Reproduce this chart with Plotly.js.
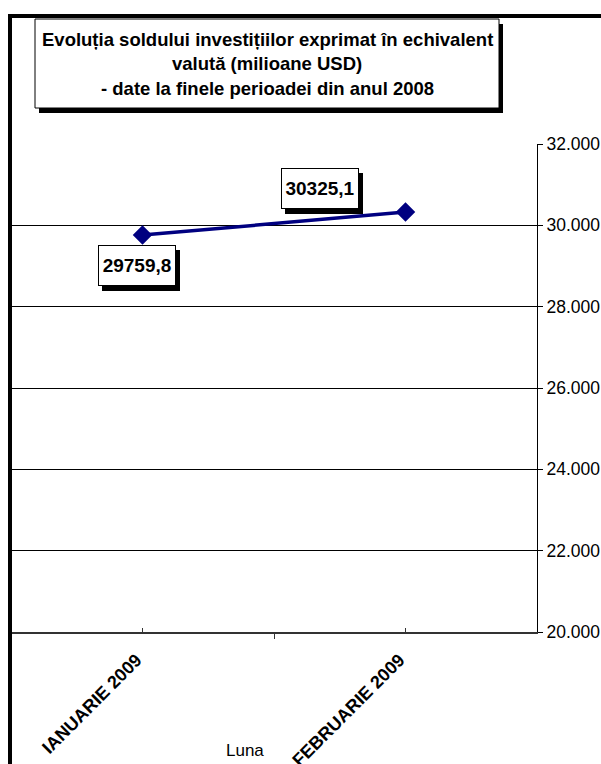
<!DOCTYPE html>
<html>
<head>
<meta charset="utf-8">
<script src="https://cdn.plot.ly/plotly-3.0.1.min.js"></script>
<style>
  html, body { margin: 0; padding: 0; background: #ffffff; overflow: hidden; }
  #wrap { position: relative; width: 601px; height: 764px; overflow: hidden; }
  #chart { position: absolute; left: 0; top: 0; width: 601px; height: 764px; }
  #frameTop { position: absolute; left: 8px; top: 14px; width: 593px; height: 4px;
              background: #000; pointer-events: none; z-index: 5; }
  #frameLeft { position: absolute; left: 8px; top: 14px; width: 4px; height: 750px;
               background: #000; pointer-events: none; z-index: 5; }
</style>
</head>
<body>
<div id="wrap"><div id="chart"></div><div id="frameTop"></div><div id="frameLeft"></div></div>
<script>
// ---- data ----
const categories = ["IANUARIE 2009", "FEBRUARIE 2009"];
const values = [29759.8, 30325.1];
const yTickValues = [20000, 22000, 24000, 26000, 28000, 30000, 32000];
const titleLines = [
  "Evoluția soldului investițiilor exprimat în echivalent",
  "valută (milioane USD)",
  "- date la finele perioadei din anul 2008"
];
const xAxisTitle = "Luna";

// ---- layout helpers (pixel -> paper) ----
const W = 601, H = 764;
const M = { l: 11, r: 64, t: 144, b: 132 };
const PW = W - M.l - M.r, PH = H - M.t - M.b;
const px = x => (x - M.l) / PW;
const py = y => (H - M.b - y) / PH;

const FONT = "Liberation Sans, Arial, sans-serif";
const xIdx = categories.map((c, i) => i);

const trace = {
  type: "scatter",
  mode: "lines+markers",
  x: xIdx,
  y: values,
  line: { color: "#000080", width: 3.5 },
  marker: { symbol: "diamond", size: 15, color: "#000080" },
  hoverinfo: "skip",
  showlegend: false
};

const annotations = [];
const shapes = [
  // top frame edge (also drawn by plotly)
  { type: "line", xref: "paper", yref: "paper",
    x0: px(8), x1: px(601), y0: py(16), y1: py(16),
    line: { color: "#000000", width: 4 }, layer: "above" },
  // title box shadow
  { type: "rect", xref: "paper", yref: "paper",
    x0: px(39), x1: px(503), y0: py(113), y1: py(24),
    line: { width: 0 }, fillcolor: "#000000", layer: "above" },
  // title box
  { type: "rect", xref: "paper", yref: "paper",
    x0: px(35), x1: px(499), y0: py(108), y1: py(19),
    line: { color: "#000000", width: 1 }, fillcolor: "#ffffff", layer: "above" }
];

// data labels (box shadow as pixel-sized shape anchored at the point)
const labelShift = [[-5.5, -30.4], [-85.5, 23.6]];
const BW = 78, BH = 41;
values.forEach((v, i) => {
  const txt = v.toFixed(1).replace(".", ",");
  const xs = labelShift[i][0], ys = labelShift[i][1];
  shapes.push({
    type: "rect", xref: "x", yref: "y",
    xsizemode: "pixel", ysizemode: "pixel",
    xanchor: xIdx[i], yanchor: v,
    x0: xs + 4 - BW / 2, x1: xs + 4 + BW / 2,
    y0: ys - 5 - BH / 2, y1: ys - 5 + BH / 2,
    line: { width: 0 }, fillcolor: "#000000", layer: "above"
  });
  annotations.push({
    xref: "x", yref: "y", x: xIdx[i], y: v,
    text: "<b>" + txt + "</b>", showarrow: false,
    xshift: xs, yshift: ys,
    width: BW - 8, height: BH - 8, borderpad: 3, borderwidth: 1,
    bgcolor: "#ffffff", bordercolor: "#000000",
    font: { family: FONT, size: 19, color: "#000000" }
  });
});
// title lines
const titleY = [39, 63.5, 88];
titleLines.forEach((t, i) => {
  annotations.push({
    xref: "paper", yref: "paper", x: px(267), y: py(titleY[i]),
    xanchor: "center", yanchor: "middle",
    text: "<b>" + t + "</b>", showarrow: false,
    font: { family: FONT, size: 18.5, color: "#000000" }
  });
});
// axis title
annotations.push({
  xref: "paper", yref: "paper", x: px(245), y: py(750),
  xanchor: "center", yanchor: "middle",
  text: xAxisTitle, showarrow: false,
  font: { family: FONT, size: 17, color: "#000000" }
});

const layout = {
  width: W, height: H,
  margin: M,
  paper_bgcolor: "#ffffff",
  plot_bgcolor: "#ffffff",
  separators: ",.",
  font: { family: FONT, color: "#000000" },
  showlegend: false,
  xaxis: {
    type: "linear",
    range: [-0.5, 1.5],
    tickmode: "array",
    tickvals: xIdx,
    ticktext: categories.map(c => "<b>" + c + "</b>"),
    tickangle: -45,
    ticklabelstandoff: 9,
    ticklabelshift: -6,
    tickfont: { family: FONT, size: 18, color: "#000000" },
    ticks: "inside", ticklen: 4, tickcolor: "#333333", tickwidth: 1,
    minor: { tickmode: "array", tickvals: [-0.5, 0.5, 1.5], ticks: "outside",
             ticklen: 5, tickcolor: "#333333", tickwidth: 1, showgrid: false },
    showline: true, linecolor: "#333333", linewidth: 1.5,
    showgrid: false, zeroline: false, fixedrange: true
  },
  yaxis: {
    side: "right",
    range: [20000, 32000],
    tickmode: "array",
    tickvals: yTickValues,
    tickformat: ",.0f",
    tickfont: { family: FONT, size: 17.5, color: "#000000" },
    ticks: "outside", ticklen: 5, tickcolor: "#000000", tickwidth: 1,
    showline: true, linecolor: "#000000", linewidth: 1,
    showgrid: true, gridcolor: "#000000", gridwidth: 1,
    zeroline: false, fixedrange: true
  },
  shapes: shapes,
  annotations: annotations
};

Plotly.newPlot("chart", [trace], layout, { staticPlot: true, displayModeBar: false });
</script>
</body>
</html>
